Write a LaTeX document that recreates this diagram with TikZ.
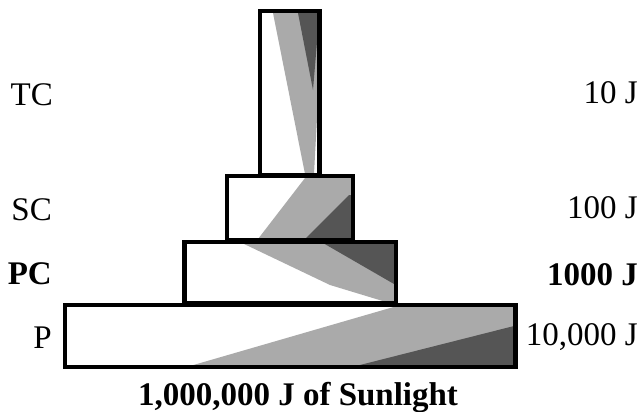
\documentclass[tikz,border=0pt]{standalone}
\usepackage{fontspec}
\setmainfont{Liberation Serif}
\definecolor{lightg}{HTML}{AAAAAA}
\definecolor{darkg}{HTML}{555555}
\begin{document}
\begin{tikzpicture}[x=1pt,y=-1pt,
  tier/.style={draw=black,line width=4.5pt,line join=miter},
  lbl/.style={inner sep=0pt,font=\fontsize{33}{38}\selectfont},
  lblb/.style={inner sep=0pt,font=\fontsize{33}{38}\selectfont\bfseries},
  lightfill/.style={fill=lightg},
  darkfill/.style={fill=darkg}]
\useasboundingbox (0,0) rectangle (640,412);
\fill[white] (0,0) rectangle (640,412);
% --- shading inside the tiers ---
% TC
\fill[lightfill] (273,13) -- (318,13) -- (318,100) -- (314,174) -- (305,174) -- cycle;
\fill[darkfill] (298,13) -- (318,13) -- (318,30) -- (313,90) -- cycle;
% SC
\fill[lightfill] (305,178) -- (351,178) -- (351,239) -- (258,239) -- cycle;
\fill[darkfill] (349,195) -- (351,195) -- (351,239) -- (305,239) -- (330,214) -- cycle;
% PC
\fill[lightfill] (242,243) -- (394,243) -- (394,302) -- (386,302) -- (330,285) -- cycle;
\fill[darkfill] (323,243) -- (394,243) -- (394,284) -- cycle;
% P
\fill[lightfill] (190,366) -- (397,306) -- (514,306) -- (514,366) -- cycle;
\fill[darkfill] (356,366) -- (514,326) -- (514,366) -- cycle;
% --- tier outlines ---
\draw[tier] (260,11) rectangle (319.5,175.5);
\draw[tier] (227,176) rectangle (353,240.5);
\draw[tier] (184.5,242) rectangle (396,303.5);
\draw[tier] (65,305) rectangle (515.5,367);
% --- labels ---
\node[lbl,anchor=base east] (tc) at (53,105) {TC};
\node[lbl,anchor=base east] (sc) at (52,220) {SC};
\node[lblb,anchor=base east] (pc) at (52,284) {PC};
\node[lbl,anchor=base east] (p) at (52,348) {P};
\node[lbl,anchor=base east] (e1) at (638,103) {10 J};
\node[lbl,anchor=base east] (e2) at (638,218) {100 J};
\node[lblb,anchor=base east] (e3) at (638,285) {1000 J};
\node[lbl,anchor=base east] (e4) at (638,345) {10,000 J};
\node[lblb,anchor=base] (sun) at (298,405) {1,000,000 J of Sunlight};
\end{tikzpicture}
\end{document}
